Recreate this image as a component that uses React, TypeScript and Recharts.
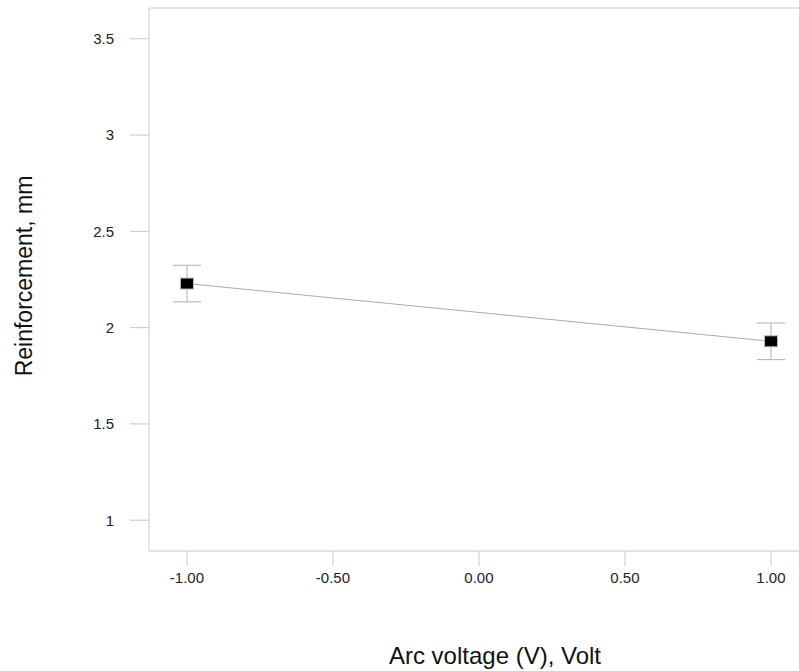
import { LineChart, Line, XAxis, YAxis, ErrorBar, ReferenceLine } from "recharts";

const FONT = "'Liberation Sans', Arial, sans-serif";

const voltageLevels = [-1, 1];
const reinforcement = [2.229, 1.929];
const errorHalf = [0.095, 0.095];
const xTicks = [-1, -0.5, 0, 0.5, 1];
const yTicks = [1, 1.5, 2, 2.5, 3, 3.5];
const Y_MAX = 3.66;

const data = voltageLevels.map((x, i) => ({
  x,
  y: reinforcement[i],
  err: errorHalf[i],
}));

function SquareDot(props: { cx?: number; cy?: number; index?: number }) {
  const { cx, cy, index } = props;
  if (cx == null || cy == null) return null;
  return (
    <rect
      key={`sq-${index}`}
      x={cx - 6.5}
      y={cy - 5.5}
      width={13}
      height={11}
      fill="#000"
      stroke="#bbb"
      strokeWidth={1}
    />
  );
}

export default function App() {
  return (
    <div style={{ position: "absolute", left: 0, top: 0, width: 799, height: 671, background: "#fff" }}>
      <LineChart width={799} height={671} data={data} margin={{ top: 8, right: 0, bottom: 0, left: 0 }}>
        <XAxis
          type="number"
          dataKey="x"
          domain={[-1.13, 1.096]}
          ticks={xTicks}
          tickFormatter={(v: number) => v.toFixed(2)}
          height={120}
          tickSize={15}
          tickMargin={6}
          tick={{ fill: "#222", fontSize: 15, fontFamily: FONT }}
          tickLine={{ stroke: "#c8c8c8" }}
          axisLine={{ stroke: "#c8c8c8" }}
          allowDataOverflow
        />
        <YAxis
          type="number"
          domain={[0.84, Y_MAX]}
          ticks={yTicks}
          width={149}
          tickSize={19}
          tickMargin={16}
          tick={{ fill: "#222", fontSize: 15, fontFamily: FONT }}
          tickLine={{ stroke: "#c8c8c8" }}
          axisLine={{ stroke: "#cfcfcf" }}
          allowDataOverflow
        />
        <ReferenceLine y={Y_MAX} stroke="#cfcfcf" strokeWidth={1} />
        <Line
          type="linear"
          dataKey="y"
          stroke="#aaa"
          strokeWidth={1}
          dot={<SquareDot />}
          activeDot={false}
          isAnimationActive={false}
        >
          <ErrorBar dataKey="err" width={14} stroke="#b0b0b0" strokeWidth={1} direction="y" />
        </Line>
        <text x={24} y={276} transform="rotate(-90 24 276)" textAnchor="middle" dominantBaseline="central" fontFamily={FONT} fontSize={23} fill="#111">
          Reinforcement, mm
        </text>
        <text x={495} y={655} textAnchor="middle" dominantBaseline="central" fontFamily={FONT} fontSize={24} fill="#111">
          Arc voltage (V), Volt
        </text>
      </LineChart>
    </div>
  );
}
